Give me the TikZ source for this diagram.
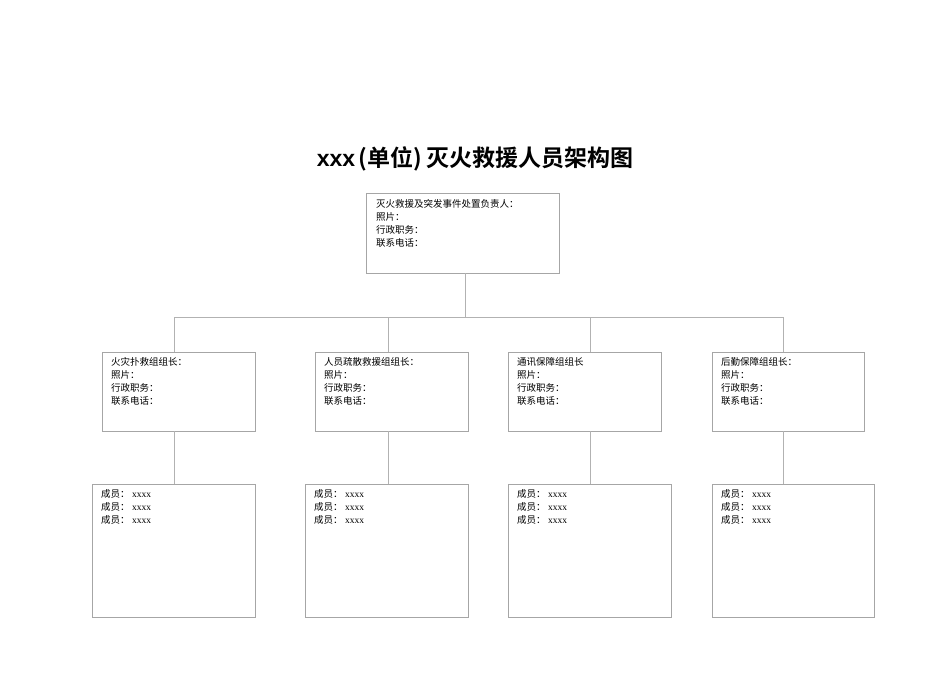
\documentclass[tikz,border=0pt]{standalone}
\usepackage{fontspec}
\setmainfont{Liberation Serif}
\newfontfamily\cjk{Noto Sans CJK SC}
\newfontfamily\cjkb{Noto Sans CJK SC Bold}
\newfontfamily\lsans{Liberation Sans}
\begin{document}
\begin{tikzpicture}[x=1pt,y=-1pt,
  bx/.style={draw=black!35,line width=0.6pt},
  ln/.style={draw=black!30,line width=0.6pt},
  tx/.style={anchor=north west,inner sep=0pt,align=left,font=\fontsize{9.5}{13}\selectfont\cjk}]
\useasboundingbox (0,0) rectangle (950,672);
\node[font=\fontsize{23}{26}\selectfont] (title) at (475,159) {{\lsans\bfseries xxx}\,{\cjkb(单位)\,灭火救援人员架构图}};
\draw[bx] (366,193) rectangle (559,273);
\coordinate (top) at (465,273);
\node[tx] (t0) at (376,199) {灭火救援及突发事件处置负责人：\\照片：\\行政职务：\\联系电话：};
\coordinate (hub) at (465,317);
\draw[ln] (top) -- (hub);
\draw[ln] (174,317) -- (783,317);
\foreach \mx/\mw/\lx/\bx/\bw/\name/\txt in {
  102/153/174/92/163/a/火灾扑救组组长：,
  315/153/388/305/163/b/人员疏散救援组组长：,
  508/153/590/508/163/c/通讯保障组组长,
  712/152/783/712/162/d/后勤保障组组长：}{
  \draw[ln] (\lx,317) -- (\lx,352);
  \draw[bx] (\mx,352) rectangle ++(\mw,79);
  \node[tx] (m\name) at (\mx+9,357) {\txt\\照片：\\行政职务：\\联系电话：};
  \draw[ln] (\lx,431) -- (\lx,484);
  \draw[bx] (\bx,484) rectangle ++(\bw,133);
  \node[tx] (b\name) at (\bx+9,489) {成员：{\rmfamily\ xxxx}\\成员：{\rmfamily\ xxxx}\\成员：{\rmfamily\ xxxx}};
}
\end{tikzpicture}
\end{document}
